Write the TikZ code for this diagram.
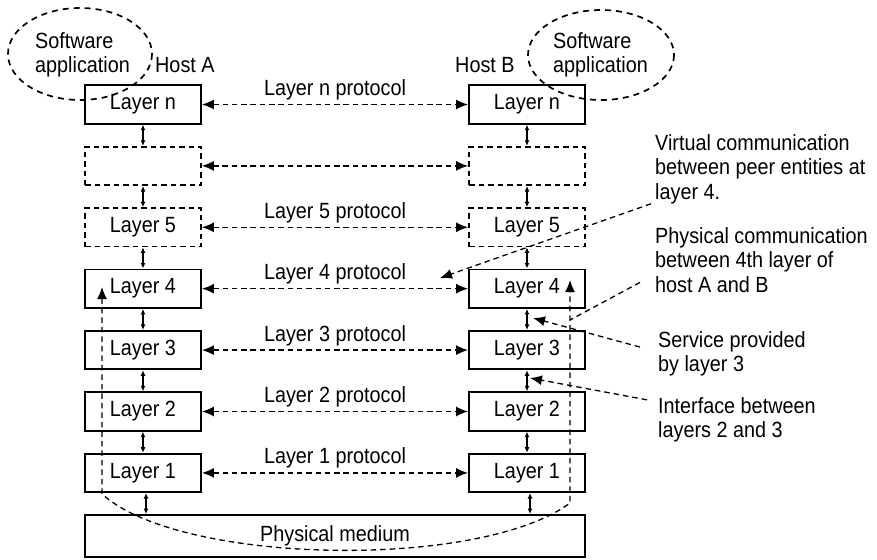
\documentclass[tikz,border=0pt]{standalone}
\usepackage{fontspec}
\setmainfont{Liberation Sans}[FakeStretch=0.9]
\usetikzlibrary{arrows.meta}

\begin{document}
\begin{tikzpicture}[x=1pt, y=-1pt, >=Latex,
  font=\fontsize{22}{24.5}\selectfont,
  layer/.style={draw, line width=1.9pt, minimum width=116pt, minimum height=38.5pt, inner sep=0pt},
  ghost/.style={layer, line width=1.7pt, dash pattern=on 5.5pt off 4pt},
  proto/.style={dash pattern=on 5.5pt off 3.8pt, line width=1.4pt,
    {Latex[length=12pt,width=10pt]}-{Latex[length=12pt,width=10pt]}},
  link/.style={line width=1.2pt, {Latex[length=5.5pt,width=5pt]}-{Latex[length=5.5pt,width=5pt]}},
  note/.style={dash pattern=on 5.5pt off 4pt, line width=1.3pt},
  tip/.style={-{Latex[length=12pt,width=10pt]}},
  notetext/.style={align=left, anchor=base west, inner sep=0pt},
  proto label/.style={midway, anchor=base, yshift=9pt, inner sep=0pt}]
  \useasboundingbox (0,0) rectangle (877,559);
  % software applications
  \draw[dash pattern=on 6pt off 5pt, line width=1.7pt] (80,54) ellipse [x radius=72, y radius=46];
  \draw[dash pattern=on 6pt off 5pt, line width=1.7pt] (601,55) ellipse [x radius=73, y radius=45];
  \node[notetext] (appA) at (35,73) {Software\\application};
  \node[notetext] (appB) at (553,73) {Software\\application};
  \node[notetext] (hostA) at (155,73) {Host A};
  \node[notetext] (hostB) at (455,73) {Host B};
  % host A stack
  \node[layer] (An) at (143,104.5) {Layer n};
  \node[ghost] (Ax) at (143,165.9) {};
  \node[ghost] (A5) at (143,227.3) {Layer 5};
  \node[layer] (A4) at (143,288.7) {Layer 4};
  \node[layer] (A3) at (143,350.1) {Layer 3};
  \node[layer] (A2) at (143,411.5) {Layer 2};
  \node[layer] (A1) at (143,472.9) {Layer 1};
  % host B stack
  \node[layer] (Bn) at (527,104.5) {Layer n};
  \node[ghost] (Bx) at (527,165.9) {};
  \node[ghost] (B5) at (527,227.3) {Layer 5};
  \node[layer] (B4) at (527,288.7) {Layer 4};
  \node[layer] (B3) at (527,350.1) {Layer 3};
  \node[layer] (B2) at (527,411.5) {Layer 2};
  \node[layer] (B1) at (527,472.9) {Layer 1};
  % medium
  \node[layer, minimum width=500pt, minimum height=42pt] (phys) at (335,536) {Physical medium};
  % peer protocols
  \draw[proto] (An) -- (Bn) node[proto label] {Layer n protocol};
  \draw[proto] (Ax) -- (Bx);
  \draw[proto] (A5) -- (B5) node[proto label] {Layer 5 protocol};
  \draw[proto] (A4) -- (B4) node[proto label] {Layer 4 protocol};
  \draw[proto] (A3) -- (B3) node[proto label] {Layer 3 protocol};
  \draw[proto] (A2) -- (B2) node[proto label] {Layer 2 protocol};
  \draw[proto] (A1) -- (B1) node[proto label] {Layer 1 protocol};
  % interfaces between layers
  \draw[link] (An) -- (Ax);
  \draw[link] (Ax) -- (A5);
  \draw[link] (A5) -- (A4);
  \draw[link] (A4) -- (A3);
  \draw[link] (A3) -- (A2);
  \draw[link] (A2) -- (A1);
  \draw[link] ([xshift=3pt]A1.south) -- ([xshift=3pt]A1.south |- phys.north);
  \draw[link] (Bn) -- (Bx);
  \draw[link] (Bx) -- (B5);
  \draw[link] (B5) -- (B4);
  \draw[link] (B4) -- (B3);
  \draw[link] (B3) -- (B2);
  \draw[link] (B2) -- (B1);
  \draw[link] ([xshift=3pt]B1.south) -- ([xshift=3pt]B1.south |- phys.north);
  % physical path between the 4th layers
  \coordinate (upA) at (102,287);
  \coordinate (upB) at (570,280);
  \draw[note, {Latex[length=12pt,width=10pt]}-{Latex[length=12pt,width=10pt]}]
    (upA) -- (102,494) .. controls (180,565) and (480,570) .. (570,503) -- (upB);
  % notes
  \node[notetext] (virt) at (655,199) {Virtual communication\\between peer entities at\\layer 4.};
  \node[notetext] (pcom) at (655,292) {Physical communication\\between 4th layer of\\host A and B};
  \node[notetext] (serv) at (658,371.5) {Service provided\\by layer 3};
  \node[notetext] (iface) at (658,437.5) {Interface between\\layers 2 and 3};
  \coordinate (virttip) at (440,278);
  \coordinate (pcomend) at (570,320);
  \coordinate (servtip) at (533,318);
  \coordinate (ifacetip) at (530,378);
  \draw[note, tip] ([xshift=-4pt]virt.south west) -- (virttip);
  \draw[note] ([xshift=-15pt,yshift=10pt]pcom.south west) -- (pcomend);
  \draw[note, tip] ([xshift=-18pt,yshift=6.5pt]serv.west) -- (servtip);
  \draw[note, tip] ([xshift=-11pt,yshift=-3pt]iface.north west) -- (ifacetip);
\end{tikzpicture}
\end{document}
